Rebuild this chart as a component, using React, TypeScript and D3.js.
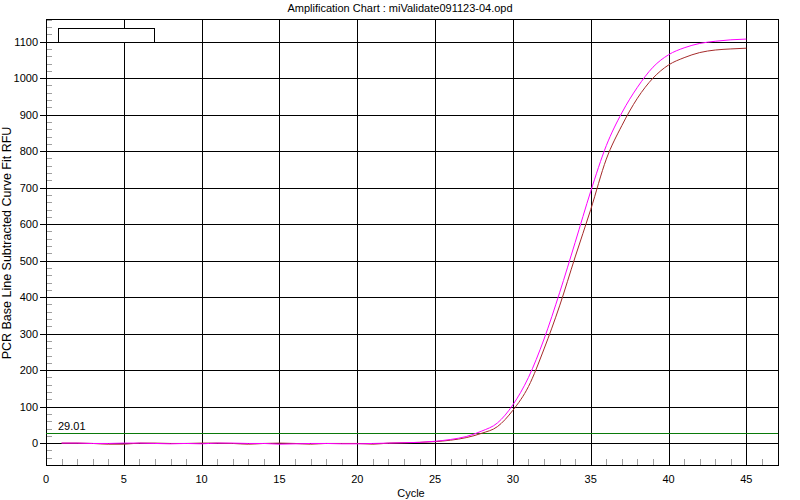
import * as d3 from 'd3';

const title = 'Amplification Chart : miValidate091123-04.opd';
const xLabel = 'Cycle';
const yLabel = 'PCR Base Line Subtracted Curve Fit RFU';

const cycles = d3.range(1, 46);
const magentaRfu = [
  0, 0, -1, -1, 0, 0, -1, -2, -1, -2, 0, 0, -1, -1, -3, -2, -1, -1, -2, -2, -1, 0, 1, 2,
  5, 10, 18, 33, 55, 105, 180, 285, 412, 550, 690, 815, 905, 975, 1030, 1064, 1083, 1095, 1101, 1105, 1107,
];
const brownRfu = [
  0, 0, -1, -3, -3, 0, 0, -1, -1, 0, 0, -1, -3, -1, 0, -1, -3, -1, -1, -1, -3, 0, 1, 2,
  4, 8, 15, 27, 45, 90, 155, 258, 376, 510, 640, 778, 870, 945, 1000, 1036, 1056, 1070, 1077, 1080, 1082,
];
const xTicks = d3.range(0, 46, 5);
const xMinorTicks = d3.range(0, 47, 1);
const yTicks = d3.range(0, 1101, 100);
const yMinorTicks = d3.range(-60, 1161, 20);
const threshold = 29.01;

const W = 800;
const H = 500;
const left = 46, right = 777.5, top = 19, bottom = 465;
const font = 'Liberation Sans, Arial, sans-serif';

export default function App() {
  const x = d3.scaleLinear().domain([0, 47]).range([left, right]);
  const y = d3.scaleLinear().domain([-60, 1162]).range([bottom, top]);
  const px = (v: number) => Math.round(v) + 0.5;

  const line = d3.line<number>()
    .x((d, i) => x(cycles[i]))
    .y(d => y(d))
    .curve(d3.curveMonotoneX);

  return (
    <svg width={W} height={H} style={{ position: 'absolute', left: 0, top: 0, background: '#fff' }}>
      <rect x={0} y={0} width={W} height={H} fill="#fff" />
      <text x={400} y={12} textAnchor="middle" fontFamily={font} fontSize={11} fill="#000">{title}</text>

      {/* minor ticks */}
      <g shapeRendering="crispEdges" stroke="#a0a0a0">
        {yMinorTicks.map(t => (
          <line key={'ym' + t} x1={left} x2={left + 6} y1={px(y(t))} y2={px(y(t))} />
        ))}
        {xMinorTicks.map(t => (
          <line key={'xm' + t} x1={px(x(t))} x2={px(x(t))} y1={bottom} y2={bottom - 6} />
        ))}
      </g>

      {/* grid */}
      <g shapeRendering="crispEdges" stroke="#000">
        {yTicks.map(t => (
          <line key={'yg' + t} x1={left - 6} x2={right} y1={px(y(t))} y2={px(y(t))} />
        ))}
        {xTicks.map(t => (
          <line key={'xg' + t} x1={px(x(t))} x2={px(x(t))} y1={top} y2={bottom} />
        ))}
        <rect x={px(left)} y={px(top)} width={Math.round(right - left)} height={Math.round(bottom - top)} fill="none" />
      </g>

      {/* threshold */}
      <line x1={left} x2={right} y1={px(y(threshold))} y2={px(y(threshold))} stroke="#0a7a0a" shapeRendering="crispEdges" />
      <text x={58} y={430} fontFamily={font} fontSize={11} fill="#000">{threshold.toFixed(2)}</text>

      {/* curves */}
      <path d={line(brownRfu) ?? ''} fill="none" stroke="#a52a2a" strokeWidth={1} />
      <path d={line(magentaRfu) ?? ''} fill="none" stroke="#ff00ff" strokeWidth={1} />

      {/* legend box */}
      <rect x={58.5} y={28.5} width={96} height={14} fill="#fff" stroke="#000" shapeRendering="crispEdges" />

      {/* tick labels */}
      {yTicks.map(t => (
        <text key={'yl' + t} x={38} y={y(t) + 4} textAnchor="end" fontFamily={font} fontSize={11} fill="#000">{t}</text>
      ))}
      {xTicks.map(t => (
        <text key={'xl' + t} x={x(t)} y={483} textAnchor="middle" fontFamily={font} fontSize={11} fill="#000">{t}</text>
      ))}
      <text x={411} y={497} textAnchor="middle" fontFamily={font} fontSize={11} fill="#000">{xLabel}</text>
      <text transform={`translate(11, 243) rotate(-90)`} textAnchor="middle" fontFamily={font} fontSize={12.5} fill="#000">{yLabel}</text>
    </svg>
  );
}
